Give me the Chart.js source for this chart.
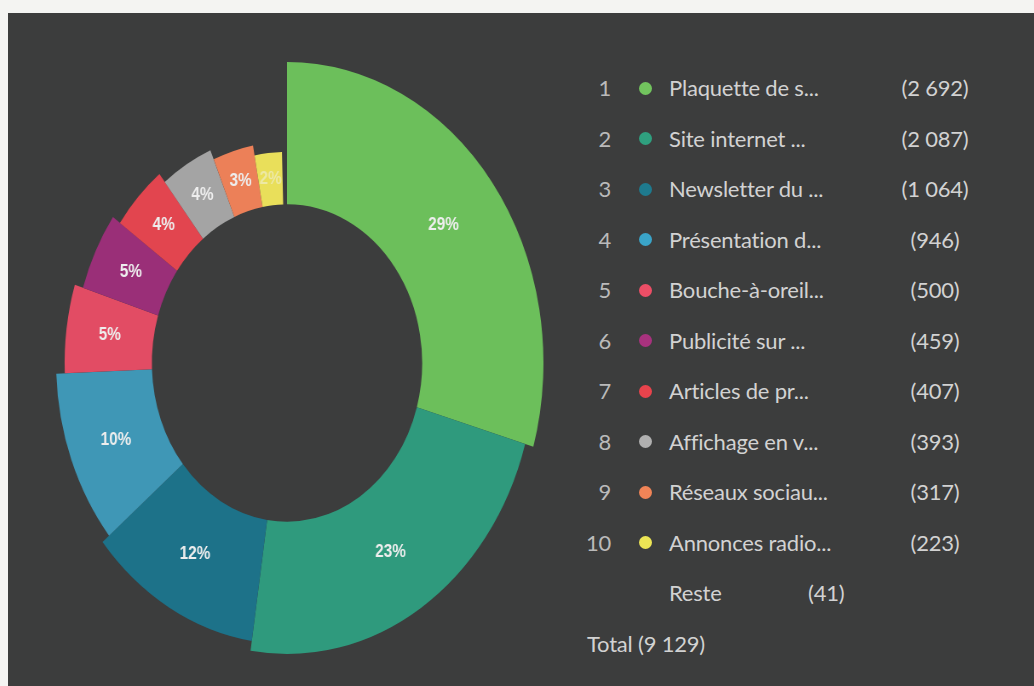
<!DOCTYPE html>
<html><head><meta charset="utf-8">
<script src="https://cdn.jsdelivr.net/npm/chart.js@4/dist/chart.umd.min.js"></script>
<style>
html,body{margin:0;padding:0;width:1034px;height:686px;overflow:hidden;background:#f4f4f2;}
#panel{position:absolute;left:8px;top:13px;width:1026px;height:673px;background:#3c3d3d;}
#chartWrap{position:absolute;left:-14px;top:62px;width:602px;height:602px;transform:scaleX(0.852);transform-origin:50% 50%;}
.t{position:absolute;font-family:Lato,"Open Sans",sans-serif;font-size:22px;color:#d2d2d2;white-space:nowrap;line-height:26px;height:26px;letter-spacing:-0.2px;}
.rank{color:#bababa;text-align:right;width:40px;}
.val{text-align:center;width:120px;}
.dot{position:absolute;width:13px;height:13px;border-radius:50%;}
</style></head>
<body>
<div id="panel"></div>
<div id="chartWrap"><canvas id="c"></canvas></div>
<div id="legend"></div>
<script>
// ---- data ----
const categories = ["Plaquette de s...", "Site internet ...", "Newsletter du ...", "Présentation d...", "Bouche-à-oreil...", "Publicité sur ...", "Articles de pr...", "Affichage en v...", "Réseaux sociau...", "Annonces radio..."];
const values = [2692, 2087, 1064, 946, 500, 459, 407, 393, 317, 223];
const valueLabels = ["(2 692)", "(2 087)", "(1 064)", "(946)", "(500)", "(459)", "(407)", "(393)", "(317)", "(223)"];
const restLabel = "Reste";
const restValue = 41;
const restValueLabel = "(41)";
const totalLabel = "Total (9 129)";

// ---- style ----
const palette = ["#6cbf5b", "#2f9a7d", "#1d7289", "#3f97b6", "#e24c64", "#9a2f78", "#e2454f", "#a4a4a4", "#ec8058", "#e9df5a"];
const dotPalette = ["#72c45e", "#2fa07f", "#1e7a8e", "#3aa4c8", "#ec4e66", "#a8327e", "#e8434c", "#b0b0b0", "#f08457", "#ece555"];
const STEP = 10 / 142.5;

const allValues = values.concat([restValue]);
const total = allValues.reduce((a, b) => a + b, 0);

const ringPlugin = {
  id: 'ring',
  afterDatasetsUpdate(chart) {
    const meta = chart.getDatasetMeta(0);
    meta.data.forEach((el, i) => {
      const inner = el.innerRadius, outer = el.outerRadius;
      const f = Math.max(0, 1 - i * STEP);
      el.outerRadius = inner + (outer - inner) * f;
    });
  },
  afterDatasetsDraw(chart) {
    const ctx = chart.ctx;
    const meta = chart.getDatasetMeta(0);
    ctx.save();
    ctx.font = 'bold 18px "Liberation Sans", Arial, sans-serif';
    ctx.textAlign = 'center';
    ctx.textBaseline = 'middle';
    meta.data.forEach((el, i) => {
      if (i >= values.length) return;
      const p = el.getCenterPoint();
      const pct = Math.round(values[i] / total * 100) + '%';
      ctx.fillStyle = i === values.length - 1 ? 'rgba(240,240,225,0.55)' : '#eeeeee';
      ctx.fillText(pct, p.x, p.y);
    });
    ctx.restore();
  }
};

new Chart(document.getElementById('c'), {
  type: 'doughnut',
  data: {
    labels: categories.concat([restLabel]),
    datasets: [{
      data: allValues,
      backgroundColor: palette.concat(['rgba(0,0,0,0)']),
      borderWidth: 0,
      hoverOffset: 0,
      offset: 0
    }]
  },
  options: {
    responsive: true,
    maintainAspectRatio: false,
    animation: false,
    cutout: '52.7%',
    spacing: 0,
    layout: { padding: 0 },
    plugins: { legend: { display: false }, tooltip: { enabled: false } }
  },
  plugins: [ringPlugin]
});

// ---- HTML legend ----
const leg = document.getElementById('legend');
function add(cls, text, left, top) {
  const d = document.createElement('div');
  d.className = 't ' + cls;
  d.textContent = text;
  d.style.left = left + 'px';
  d.style.top = top + 'px';
  leg.appendChild(d);
  return d;
}
const rowH = 50.5, firstY = 88;
categories.forEach((c, i) => {
  const cy = firstY + i * rowH;
  add('rank', String(i + 1), 571, cy - 13);
  const dot = document.createElement('div');
  dot.className = 'dot';
  dot.style.left = (645 - 6.5) + 'px';
  dot.style.top = (cy - 6.5) + 'px';
  dot.style.background = dotPalette[i];
  leg.appendChild(dot);
  add('', c, 669, cy - 13);
  add('val', valueLabels[i], 875, cy - 13);
});
const ry = firstY + 10 * rowH;
add('', restLabel, 669, ry - 13);
add('', restValueLabel, 808, ry - 13);
const ty = firstY + 11 * rowH;
add('', totalLabel, 587, ty - 13);
</script>
</body></html>
